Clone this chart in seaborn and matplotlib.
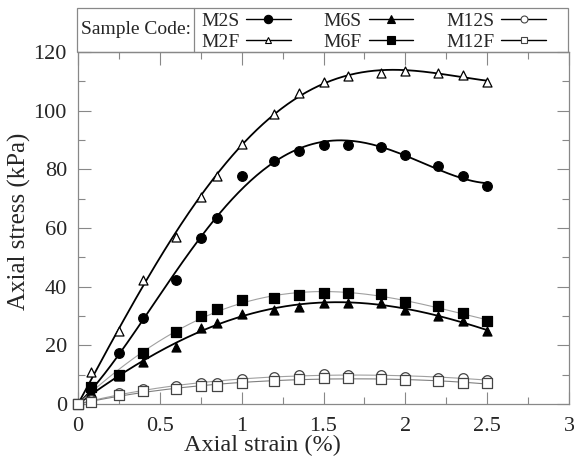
import numpy as np
import pandas as pd
import seaborn as sns
from matplotlib import pyplot as plt
from matplotlib.lines import Line2D
from matplotlib.patches import Rectangle

strain = [0, 0.08, 0.25, 0.4, 0.6, 0.75, 0.85, 1.0, 1.2, 1.35, 1.5,
          1.65, 1.85, 2.0, 2.2, 2.35, 2.5]

m2s = [0, 5, 17.5, 29.2, 42.3, 56.7, 63.5, 77.7, 83, 86.4, 88.3,
       88.3, 87.5, 84.9, 81.1, 77.7, 74.3]
m2f = [0, 11, 25, 42.3, 56.8, 70.7, 77.7, 88.5, 98.9, 106.1, 109.9,
       111.8, 112.7, 113.5, 112.7, 112.2, 109.9]
m6s = [0, 4, 9.5, 14.4, 19.5, 26, 27.7, 30.6, 32, 33.2, 34.6,
       34.6, 34.5, 32, 30, 28.3, 24.9]
m6f = [0, 5.9, 9.9, 17.3, 24.7, 30, 32.4, 35.5, 36, 37.2, 38,
       37.7, 37.4, 34.9, 33.4, 30.9, 28.3]
m12s = [0, 1.2, 3.6, 5, 6.2, 7, 7.2, 8.5, 9.3, 9.8, 10.2,
        10, 9.8, 9.3, 9.0, 8.7, 8.3]
m12f = [0, 0.8, 3, 4.4, 5.2, 6, 6.3, 7.3, 8, 8.4, 8.8,
        8.8, 8.5, 8.1, 7.8, 7.3, 7.0]

codes = ['M2S', 'M2F', 'M6S', 'M6F', 'M12S', 'M12F']
values = [m2s, m2f, m6s, m6f, m12s, m12f]

# marker, filled, fit line colour, fit line width
styles = {
    'M2S': ('o', True, 'black', 1.3),
    'M2F': ('^', False, 'black', 1.3),
    'M6S': ('^', True, 'black', 1.3),
    'M6F': ('s', True, '#a0a0a0', 0.8),
    'M12S': ('o', False, '#a0a0a0', 0.8),
    'M12F': ('s', False, '#808080', 0.8),
}

df = pd.DataFrame({
    'strain': np.tile(strain, len(codes)),
    'stress': np.concatenate(values),
    'code': np.repeat(codes, len(strain)),
})


def fit_curve(x, y, deg=4):
    # least squares polynomial forced through the origin
    x = np.asarray(x)
    A = np.column_stack([x ** k for k in range(1, deg + 1)])
    coef, *_ = np.linalg.lstsq(A, np.asarray(y), rcond=None)
    xs = np.linspace(0, max(x), 200)
    ys = sum(c * xs ** (k + 1) for k, c in enumerate(coef))
    return xs, ys


sns.set_theme(style='ticks')
plt.rcParams['font.family'] = ['Liberation Serif', 'DejaVu Serif']

fig = plt.figure(figsize=(5.74, 4.61), dpi=100)
ax = fig.add_axes([78 / 574, 57 / 461, 491 / 574, 352 / 461])

fits = []
for code in codes:
    sub = df[df['code'] == code]
    xs, ys = fit_curve(sub['strain'], sub['stress'])
    fits.append(pd.DataFrame({'strain': xs, 'stress': ys, 'code': code}))
fit_df = pd.concat(fits)

for code in codes:
    marker, filled, lc, lw = styles[code]
    sns.lineplot(data=fit_df[fit_df['code'] == code], x='strain', y='stress',
                 color=lc, lw=lw, ax=ax, legend=False, zorder=2)

for code in codes:
    marker, filled, lc, lw = styles[code]
    sub = df[df['code'] == code]
    size = 48 if marker == 'o' else 42
    edge = '#444444' if code.startswith('M12') else 'black'
    sns.scatterplot(data=sub, x='strain', y='stress', marker=marker, s=size,
                    facecolor='black' if filled else 'white',
                    edgecolor=edge, linewidth=0.9, ax=ax, legend=False,
                    zorder=3, clip_on=False)

ax.set_xlim(0, 3)
ax.set_ylim(0, 120)
ax.set_xticks(np.arange(0, 3.01, 0.5))
ax.set_xticks(np.arange(0, 3.01, 0.25), minor=True)
ax.set_yticks(np.arange(0, 121, 20))
ax.set_yticks(np.arange(0, 121, 10), minor=True)
ax.set_xticklabels(['0', '0.5', '1', '1.5', '2', '2.5', '3'])
ax.tick_params(which='both', direction='in', top=True, right=True,
               color='#888888', labelsize=16)
ax.tick_params(axis='x', pad=9)
ax.tick_params(axis='y', pad=8)
ax.tick_params(which='major', length=9, width=0.8)
ax.tick_params(which='minor', length=5, width=0.8)
for sp in ax.spines.values():
    sp.set_color('#888888')
    sp.set_linewidth(0.9)
ax.set_xlabel('Axial strain (%)', fontsize=17.5)
ax.set_ylabel('Axial stress (kPa)', fontsize=18)
ax.xaxis.set_label_coords(0.375, -0.088)
ax.yaxis.set_label_coords(-0.095, 0.52)

# legend box on top of the axes
box = Rectangle((77 / 574, 409 / 461), 491 / 574, 44 / 461, transform=fig.transFigure,
                fill=False, edgecolor='#888888', lw=0.9)
fig.patches.append(box)
fig.add_artist(Line2D([194 / 574, 194 / 574], [409 / 461, 453 / 461],
                      transform=fig.transFigure, color='#888888', lw=0.9))
fig.text(136 / 574, 431 / 461, 'Sample Code:', ha='center', va='center', fontsize=14)

handles = []
for code in codes:
    marker, filled, lc, lw = styles[code]
    handles.append(Line2D([], [], color='black', lw=1.0, marker=marker,
                          markersize=6 if filled else 5,
                          markerfacecolor='black' if filled else 'white',
                          markeredgecolor='#444444' if code.startswith('M12') else 'black',
                          markeredgewidth=0.8))
fig.legend(handles, codes, ncol=3, markerfirst=False, frameon=False,
           loc='center left', bbox_to_anchor=(201 / 574, 429.5 / 461),
           fontsize=14, handlelength=2.3, handletextpad=0.35,
           columnspacing=1.7, labelspacing=0.15, borderpad=0, borderaxespad=0)

fig.savefig('out.png', dpi=100)
